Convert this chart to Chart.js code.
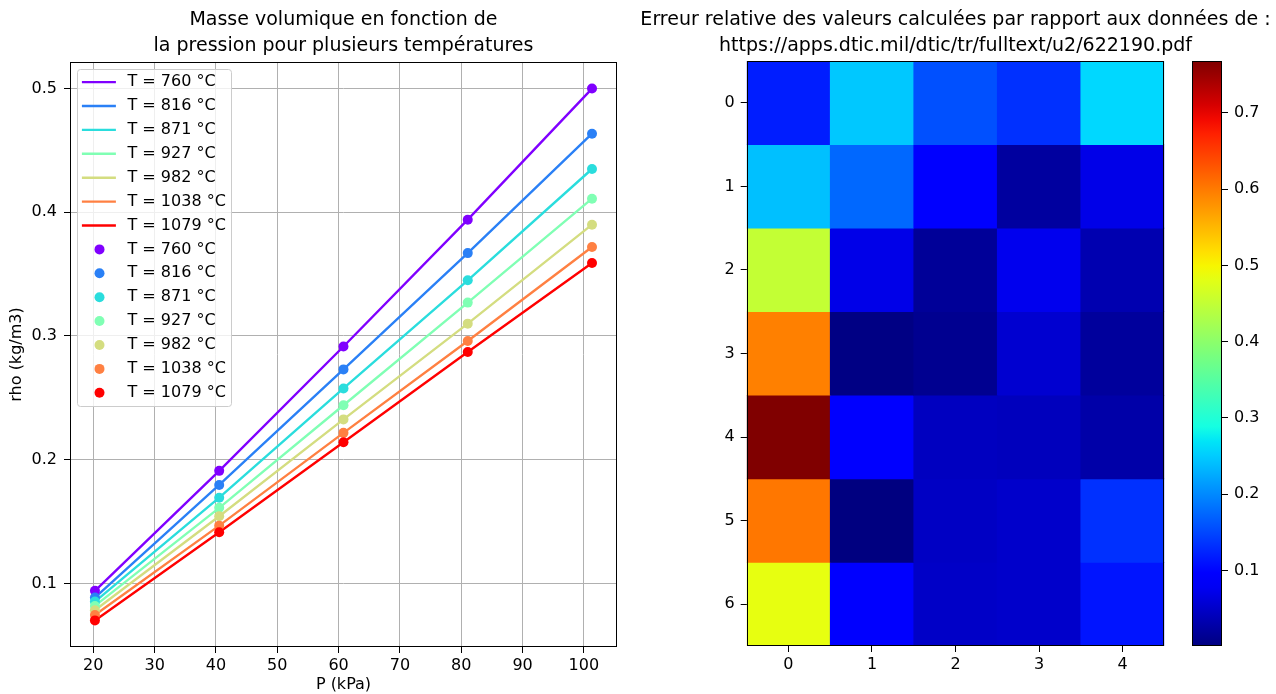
<!DOCTYPE html>
<html>
<head>
<meta charset="utf-8">
<script src="https://cdn.jsdelivr.net/npm/chart.js@4.4.1/dist/chart.umd.min.js"></script>
<style>
  html, body { margin: 0; padding: 0; background: #fff; }
  #wrap { position: relative; width: 1276px; height: 694px; overflow: hidden; }
  canvas { position: absolute; top: 0; }
</style>
</head>
<body>
<div id="wrap">
  <canvas id="rhoChart" width="640" height="694" style="left:0"></canvas>
  <canvas id="errChart" width="641" height="694" style="left:635px"></canvas>
  <canvas id="cbarChart" width="126" height="694" style="left:1150px"></canvas>
</div>
<script>
// left plot: density vs pressure
const pressure = [20.265, 40.53, 60.795, 81.06, 101.325];
const temps = [760, 816, 871, 927, 982, 1038, 1079];
const rho760 = [0.0940, 0.1910, 0.2915, 0.3940, 0.5000];
const rho816 = [0.0886, 0.1796, 0.2730, 0.3670, 0.4635];
const rho871 = [0.0853, 0.1693, 0.2576, 0.3450, 0.4350];
const rho927 = [0.0818, 0.1611, 0.2440, 0.3270, 0.4110];
const rho982 = [0.0783, 0.1543, 0.2326, 0.3100, 0.3900];
const rho1038 = [0.0745, 0.1467, 0.2217, 0.2960, 0.3720];
const rho1079 = [0.0701, 0.1413, 0.2141, 0.2870, 0.3590];
const rhoByTemp = [rho760, rho816, rho871, rho927, rho982, rho1038, rho1079];
const tempColors = ["#8000ff", "#2a80f6", "#2adddd", "#80ffb4", "#d4dd80", "#ff8042", "#ff0000"];
const pTicks = [20, 30, 40, 50, 60, 70, 80, 90, 100];
const rhoTicks = [0.1, 0.2, 0.3, 0.4, 0.5];

// right plot: relative error grid (rows 0..6, columns 0..4)
const heatCols = ["0", "1", "2", "3", "4"];
const heatRows = [0, 1, 2, 3, 4, 5, 6];
const relErr = [
  [0.119, 0.247, 0.157, 0.133, 0.259],
  [0.241, 0.175, 0.091, 0.022, 0.070],
  [0.451, 0.070, 0.017, 0.074, 0.033],
  [0.595, 0.004, 0.012, 0.054, 0.020],
  [0.768, 0.088, 0.044, 0.042, 0.028],
  [0.602, 0.001, 0.046, 0.051, 0.133],
  [0.485, 0.090, 0.048, 0.051, 0.112],
];
const cbarTicks = [0.1, 0.2, 0.3, 0.4, 0.5, 0.6, 0.7];

Chart.defaults.font.family = '"DejaVu Sans", sans-serif';
Chart.defaults.font.size = 16;
Chart.defaults.color = "#000";

// jet colormap
const JET_R = [[0, 0], [0.35, 0], [0.66, 1], [0.89, 1], [1, 0.5]];
const JET_G = [[0, 0], [0.125, 0], [0.375, 1], [0.64, 1], [0.91, 0], [1, 0]];
const JET_B = [[0, 0.5], [0.11, 1], [0.34, 1], [0.65, 0], [1, 0]];
function seg(t, pts) {
  for (let i = 1; i < pts.length; i++) {
    if (t <= pts[i][0]) {
      const [x0, y0] = pts[i - 1], [x1, y1] = pts[i];
      return y0 + (y1 - y0) * (t - x0) / (x1 - x0);
    }
  }
  return pts[pts.length - 1][1];
}
function jet(t) {
  t = Math.max(0, Math.min(1, t));
  return "rgb(" + Math.round(255 * seg(t, JET_R)) + "," + Math.round(255 * seg(t, JET_G)) + "," + Math.round(255 * seg(t, JET_B)) + ")";
}

const allErr = relErr.flat();
const vmin = Math.min(...allErr);
const vmax = Math.max(...allErr);

const framePlugin = {
  id: "frame",
  afterDatasetsDraw(chart) {
    const { ctx, chartArea: a } = chart;
    ctx.save();
    ctx.strokeStyle = "#000";
    ctx.lineWidth = 1;
    ctx.strokeRect(Math.round(a.left) + 0.5, Math.round(a.top) + 0.5,
      Math.round(a.right) - Math.round(a.left) - 1, Math.round(a.bottom) - Math.round(a.top) - 1);
    ctx.restore();
  }
};

// legend drawn inside the plot, upper left
const rhoLegend = {
  id: "rhoLegend",
  afterDraw(chart) {
    const { ctx, chartArea: a } = chart;
    const x0 = a.left + 7.5, y0 = a.top + 7.5, w = 154, h = 337;
    ctx.save();
    ctx.beginPath();
    ctx.roundRect(x0, y0, w, h, 3);
    ctx.fillStyle = "rgba(255,255,255,0.8)";
    ctx.fill();
    ctx.strokeStyle = "#cccccc";
    ctx.lineWidth = 1;
    ctx.stroke();
    ctx.font = '16px "DejaVu Sans"';
    ctx.textBaseline = "middle";
    chart.data.datasets.forEach((ds, i) => {
      const y = y0 + 12.6 + i * 23.9;
      if (ds.showLine) {
        ctx.strokeStyle = ds.borderColor;
        ctx.lineWidth = 2.4;
        ctx.beginPath();
        ctx.moveTo(x0 + 4.4, y);
        ctx.lineTo(x0 + 38.4, y);
        ctx.stroke();
      } else {
        ctx.fillStyle = ds.pointBackgroundColor;
        ctx.beginPath();
        ctx.arc(x0 + 22, y, 5, 0, Math.PI * 2);
        ctx.fill();
      }
      ctx.fillStyle = "#000";
      ctx.fillText(ds.label, x0 + 50, y);
    });
    ctx.restore();
  }
};

const lineSets = temps.map((t, i) => ({
  label: "T = " + t + " °C",
  data: pressure.map((p, j) => ({ x: p, y: rhoByTemp[i][j] })),
  showLine: true,
  borderColor: tempColors[i],
  borderWidth: 2.4,
  pointRadius: 0,
  tension: 0,
  order: 100 - i,
}));
const pointSets = temps.map((t, i) => ({
  label: "T = " + t + " °C",
  data: pressure.map((p, j) => ({ x: p, y: rhoByTemp[i][j] })),
  showLine: false,
  pointRadius: 5,
  pointBackgroundColor: tempColors[i],
  pointBorderWidth: 0,
  order: 50 - i,
}));

const tickGrid = { drawOnChartArea: false, tickLength: 6, tickColor: "#000" };
const titleFont = { size: 19, weight: "normal", lineHeight: 1.347 };

new Chart(document.getElementById("rhoChart"), {
  type: "scatter",
  data: { datasets: lineSets.concat(pointSets) },
  options: {
    responsive: false,
    animation: false,
    events: [],
    layout: { padding: { left: 0, right: 23, top: 0, bottom: 0 } },
    plugins: {
      legend: { display: false },
      tooltip: { enabled: false },
      title: {
        display: true,
        fullSize: false,
        text: ["Masse volumique en fonction de", "la pression pour plusieurs températures"],
        color: "#000",
        font: titleFont,
        padding: { top: 7.2, bottom: 3.6 },
      },
    },
    scales: {
      x: {
        type: "linear",
        min: 16.2,
        max: 105.4,
        afterBuildTicks: (s) => { s.ticks = pTicks.map((v) => ({ value: v })); },
        afterFit: (s) => { s.height = 47; },
        grid: { color: "#b0b0b0", lineWidth: 1, tickColor: "#000", tickLength: 6 },
        border: { display: false },
        ticks: { padding: 3, maxRotation: 0 },
        title: { display: true, text: "P (kPa)", padding: { top: 0, bottom: 0 } },
      },
      y: {
        type: "linear",
        min: 0.0486,
        max: 0.5215,
        afterBuildTicks: (s) => { s.ticks = rhoTicks.map((v) => ({ value: v })); },
        afterFit: (s) => { s.width = 70; },
        grid: { color: "#b0b0b0", lineWidth: 1, tickColor: "#000", tickLength: 6 },
        border: { display: false },
        ticks: { padding: 7 },
        title: { display: true, text: "rho (kg/m3)", padding: { top: 7.4, bottom: 0 } },
      },
    },
  },
  plugins: [framePlugin, rhoLegend],
});

new Chart(document.getElementById("errChart"), {
  type: "bar",
  data: {
    labels: heatCols,
    datasets: relErr.map((row, r) => ({
      data: row.map(() => [heatRows[r] - 0.5, heatRows[r] + 0.5]),
      backgroundColor: row.map((v) => jet((v - vmin) / (vmax - vmin))),
      borderWidth: 0,
      barPercentage: 1,
      categoryPercentage: 1,
      grouped: false,
    })),
  },
  options: {
    responsive: false,
    animation: false,
    events: [],
    layout: { padding: 0 },
    plugins: {
      legend: { display: false },
      tooltip: { enabled: false },
      title: {
        display: true,
        text: ["Erreur relative des valeurs calculées par rapport aux données de :", "https://apps.dtic.mil/dtic/tr/fulltext/u2/622190.pdf"],
        color: "#000",
        font: titleFont,
        padding: { top: 7.2, bottom: 2.6 },
      },
    },
    scales: {
      x: {
        type: "category",
        offset: true,
        afterFit: (s) => { s.height = 48; },
        grid: Object.assign({ offset: false }, tickGrid),
        border: { display: false },
        ticks: { padding: 3, maxRotation: 0 },
      },
      y: {
        type: "linear",
        reverse: true,
        min: -0.5,
        max: 6.5,
        afterBuildTicks: (s) => { s.ticks = heatRows.map((v) => ({ value: v })); },
        afterFit: (s) => { s.width = 111.7; },
        grid: tickGrid,
        border: { display: false },
        ticks: { padding: 6 },
      },
      // empty right axis, only reserves room for the colorbar
      spacer: {
        type: "linear",
        position: "right",
        afterFit: (s) => { s.width = 111.7; },
        grid: { display: false },
        border: { display: false },
        ticks: { display: false },
      },
    },
  },
  plugins: [framePlugin],
});

new Chart(document.getElementById("cbarChart"), {
  type: "bar",
  data: {
    labels: [""],
    datasets: [{
      data: [[vmin, vmax]],
      backgroundColor: (c) => {
        const a = c.chart.chartArea;
        if (!a) return "transparent";
        const g = c.chart.ctx.createLinearGradient(0, a.bottom, 0, a.top);
        for (let k = 0; k <= 40; k++) g.addColorStop(k / 40, jet(k / 40));
        return g;
      },
      borderWidth: 0,
      barPercentage: 1,
      categoryPercentage: 1,
    }],
  },
  options: {
    responsive: false,
    animation: false,
    events: [],
    layout: { padding: { left: 42, right: 0, top: 61, bottom: 48 } },
    plugins: { legend: { display: false }, tooltip: { enabled: false } },
    scales: {
      x: { display: false },
      y: {
        position: "right",
        min: vmin,
        max: vmax,
        afterBuildTicks: (s) => { s.ticks = cbarTicks.map((v) => ({ value: v })); },
        afterFit: (s) => { s.width = 54; },
        grid: tickGrid,
        border: { display: false },
        ticks: { padding: 6 },
      },
    },
  },
  plugins: [framePlugin],
});
</script>
</body>
</html>
